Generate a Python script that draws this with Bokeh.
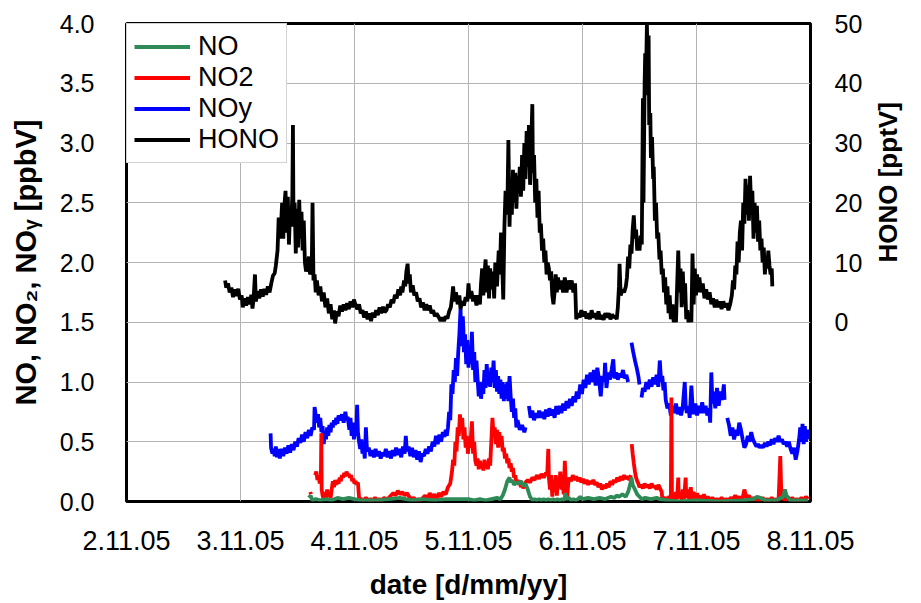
import math
from bokeh.plotting import figure
from bokeh.models import Range1d, LinearAxis, FixedTicker, Legend, LegendItem, NumeralTickFormatter
from bokeh.embed import file_html
from bokeh.resources import INLINE

NAN = float("nan")

# x in days after 2.11.05 00:00
x_tick_labels = ["2.11.05", "3.11.05", "4.11.05", "5.11.05", "6.11.05", "7.11.05", "8.11.05"]
left_ticks = [0.0, 0.5, 1.0, 1.5, 2.0, 2.5, 3.0, 3.5, 4.0]
right_ticks = [0, 10, 20, 30, 40, 50]

# HONO [pptV]
hono_points = [
    (0.865, 7.0), (0.875, 5.8), (0.89, 6.5), (0.905, 5.0), (0.92, 5.8), (0.935, 4.2), (0.95, 5.5),
    (0.965, 4.4), (0.98, 5.6), (0.995, 3.8), (1.01, 4.5), (1.02, 2.5), (1.035, 4.0), (1.05, 2.8),
    (1.065, 4.2), (1.08, 3.0), (1.095, 4.6), (1.105, 2.3), (1.115, 4.0), (1.127, 8.0), (1.135, 3.5),
    (1.15, 5.2), (1.165, 4.0), (1.18, 5.5), (1.195, 4.3), (1.21, 5.6), (1.225, 4.6), (1.24, 6.0),
    (1.255, 5.0), (1.27, 6.5), (1.285, 7.8), (1.30, 8.2), (1.31, 9.5), (1.325, 12.0), (1.335, 17.5),
    (1.345, 14.0), (1.355, 16.0), (1.365, 20.0), (1.375, 14.0), (1.385, 19.5), (1.395, 22.0),
    (1.405, 15.0), (1.415, 21.0), (1.425, 13.0), (1.435, 19.0), (1.445, 16.0), (1.455, 21.5),
    (1.46, 33.0), (1.465, 16.0), (1.475, 20.0), (1.485, 11.5), (1.495, 19.0), (1.505, 12.5),
    (1.515, 20.5), (1.525, 14.0), (1.535, 18.5), (1.545, 12.0), (1.555, 17.0), (1.565, 10.0),
    (1.575, 8.5), (1.59, 9.5), (1.60, 11.0), (1.61, 8.0), (1.625, 9.0), (1.632, 20.0), (1.64, 7.0),
    (1.65, 8.0), (1.66, 5.0), (1.67, 7.0), (1.685, 4.5), (1.70, 6.0), (1.715, 3.5), (1.73, 5.0),
    (1.745, 2.5), (1.76, 4.0), (1.775, 1.5), (1.79, 3.0), (1.805, 0.5), (1.82, 2.0), (1.83, -0.2),
    (1.845, 1.8), (1.86, 1.0), (1.875, 2.8), (1.89, 1.8), (1.905, 3.0), (1.92, 2.0), (1.935, 3.2),
    (1.95, 2.2), (1.965, 3.5), (1.98, 2.5), (1.995, 3.8), (2.01, 2.8), (2.025, 2.2), (2.04, 3.0),
    (2.055, 1.5), (2.07, 2.0), (2.085, 0.8), (2.10, 1.8), (2.115, 0.5), (2.13, 1.5), (2.145, 0.2),
    (2.16, 1.6), (2.175, 0.8), (2.19, 2.0), (2.205, 1.2), (2.22, 2.5), (2.235, 1.5), (2.25, 2.6),
    (2.265, 1.7), (2.28, 2.0), (2.295, 3.0), (2.31, 2.5), (2.325, 3.8), (2.34, 3.2), (2.355, 4.6),
    (2.37, 4.0), (2.385, 5.5), (2.40, 4.5), (2.41, 6.0), (2.42, 5.0), (2.435, 7.0), (2.445, 6.0),
    (2.455, 8.5), (2.466, 9.8), (2.475, 6.5), (2.485, 8.0), (2.495, 5.0), (2.51, 6.2), (2.525, 4.5),
    (2.54, 5.0), (2.555, 3.5), (2.57, 4.0), (2.585, 2.5), (2.60, 3.3), (2.615, 2.0), (2.63, 3.0),
    (2.645, 2.0), (2.66, 2.8), (2.675, 1.5), (2.69, 2.0), (2.705, 1.0), (2.72, 1.5), (2.74, 0.8),
    (2.755, 0.2), (2.77, 0.8), (2.785, 0.2), (2.80, 1.0), (2.815, 0.6), (2.83, 1.8), (2.845, 2.5),
    (2.855, 4.0), (2.865, 6.0), (2.875, 3.5), (2.89, 5.0), (2.905, 3.0), (2.92, 4.5), (2.93, 2.2),
    (2.945, 3.5), (2.96, 2.8), (2.975, 4.2), (2.99, 3.5), (3.0, 6.5), (3.01, 4.0), (3.025, 5.2),
    (3.04, 3.5), (3.055, 4.5), (3.07, 2.8), (3.085, 4.5), (3.10, 3.0), (3.11, 6.5), (3.12, 9.0),
    (3.13, 4.5), (3.14, 8.0), (3.15, 10.5), (3.16, 5.0), (3.17, 9.5), (3.18, 4.0), (3.19, 9.0),
    (3.20, 5.5), (3.215, 8.5), (3.225, 4.0), (3.235, 10.0), (3.25, 6.0), (3.265, 12.0), (3.275, 8.0),
    (3.285, 15.0), (3.295, 10.0), (3.305, 3.8), (3.315, 16.0), (3.325, 22.0), (3.34, 18.0),
    (3.35, 30.5), (3.36, 16.0), (3.37, 24.0), (3.38, 18.0), (3.39, 25.5), (3.40, 20.0), (3.41, 25.0),
    (3.42, 19.0), (3.43, 24.5), (3.44, 22.0), (3.45, 26.0), (3.46, 21.0), (3.47, 28.0), (3.48, 22.0),
    (3.49, 30.0), (3.50, 24.0), (3.51, 32.0), (3.52, 26.0), (3.53, 33.0), (3.54, 23.0), (3.55, 30.0),
    (3.56, 36.5), (3.565, 25.0), (3.575, 28.0), (3.585, 20.0), (3.595, 24.0), (3.605, 17.5),
    (3.615, 22.0), (3.625, 15.0), (3.635, 16.5), (3.645, 12.0), (3.655, 14.0), (3.665, 10.0),
    (3.675, 12.0), (3.685, 8.0), (3.695, 10.0), (3.705, 9.0), (3.715, 7.0), (3.725, 8.5),
    (3.735, 4.5), (3.745, 3.0), (3.755, 5.0), (3.765, 8.0), (3.775, 5.0), (3.785, 7.5), (3.80, 5.5),
    (3.815, 7.0), (3.83, 5.0), (3.845, 7.5), (3.86, 5.0), (3.875, 7.0), (3.89, 5.5), (3.905, 7.0),
    (3.92, 5.0), (3.935, 6.5), (3.945, 0.5), (3.96, 1.5), (3.975, 0.8), (3.99, 2.0), (4.005, 1.0),
    (4.02, 1.8), (4.035, 0.6), (4.05, 1.5), (4.065, 0.5), (4.08, 2.0), (4.095, 0.8), (4.11, 1.5),
    (4.125, 0.5), (4.14, 1.8), (4.155, 0.5), (4.17, 1.2), (4.185, 0.4), (4.20, 1.5), (4.215, 0.8),
    (4.23, 1.5), (4.245, 0.5), (4.26, 1.3), (4.275, 0.8), (4.29, 1.0), (4.30, 0.5), (4.31, 2.5),
    (4.32, 6.0), (4.325, 9.8), (4.335, 4.5), (4.35, 5.5), (4.365, 5.0), (4.38, 6.0), (4.39, 7.5),
    (4.40, 11.0), (4.41, 9.0), (4.42, 13.0), (4.43, 11.5), (4.44, 15.5), (4.45, 17.9), (4.46, 14.0),
    (4.47, 15.5), (4.48, 12.0), (4.49, 13.5), (4.50, 12.0), (4.51, 14.5), (4.52, 13.0), (4.53, 37.5),
    (4.535, 20.0), (4.545, 40.0), (4.55, 45.0), (4.555, 38.0), (4.565, 50.0), (4.57, 44.0),
    (4.58, 48.0), (4.585, 33.0), (4.595, 35.0), (4.60, 27.5), (4.61, 31.0), (4.62, 24.0),
    (4.625, 26.0), (4.635, 17.0), (4.645, 20.0), (4.655, 14.0), (4.665, 15.0), (4.675, 10.5),
    (4.685, 12.0), (4.695, 8.0), (4.705, 9.0), (4.715, 5.0), (4.725, 7.5), (4.735, 3.0), (4.745, 6.0),
    (4.755, 1.5), (4.765, 4.5), (4.775, 0.5), (4.79, 3.0), (4.80, 0.0), (4.81, 2.0), (4.82, 0.0),
    (4.83, 6.0), (4.84, 12.0), (4.85, 5.0), (4.86, 9.0), (4.87, 2.5), (4.88, 8.5), (4.89, 3.0),
    (4.90, 6.5), (4.91, 0.5), (4.92, 2.0), (4.93, 0.0), (4.945, 1.5), (4.955, 0.0), (4.965, 11.5),
    (4.975, 3.0), (4.985, 9.0), (4.995, 4.5), (5.005, 8.0), (5.015, 5.0), (5.025, 7.5), (5.04, 5.0),
    (5.055, 6.5), (5.07, 4.0), (5.085, 5.5), (5.10, 3.8), (5.115, 5.0), (5.13, 3.0), (5.145, 4.0),
    (5.16, 2.5), (5.175, 3.8), (5.19, 2.5), (5.205, 3.5), (5.22, 2.2), (5.235, 3.5), (5.25, 2.5),
    (5.265, 3.2), (5.28, 2.0), (5.295, 3.0), (5.31, 4.5), (5.32, 7.0), (5.33, 5.5), (5.34, 9.5),
    (5.35, 8.0), (5.36, 13.5), (5.37, 10.0), (5.38, 15.0), (5.39, 17.0), (5.40, 12.0), (5.41, 20.0),
    (5.42, 16.5), (5.43, 24.0), (5.44, 18.0), (5.45, 23.0), (5.46, 17.0), (5.47, 24.5), (5.48, 19.0),
    (5.49, 22.0), (5.50, 14.0), (5.51, 20.0), (5.52, 15.0), (5.53, 19.5), (5.54, 13.5), (5.55, 17.0),
    (5.56, 12.0), (5.57, 14.0), (5.58, 10.0), (5.59, 12.5), (5.60, 8.0), (5.61, 11.0), (5.62, 9.0),
    (5.63, 12.0), (5.64, 9.5), (5.65, 8.0), (5.66, 9.0), (5.665, 6.0),
]

# NOy [ppbV]
noy_points = [
    (1.264, 0.57), (1.268, 0.45), (1.28, 0.40), (1.29, 0.44), (1.30, 0.38), (1.31, 0.46), (1.32, 0.37),
    (1.33, 0.44), (1.345, 0.36), (1.36, 0.44), (1.375, 0.38), (1.39, 0.45), (1.405, 0.40), (1.42, 0.47),
    (1.435, 0.41), (1.45, 0.48), (1.465, 0.43), (1.48, 0.50), (1.495, 0.46), (1.51, 0.53), (1.525, 0.49),
    (1.54, 0.56), (1.555, 0.50), (1.57, 0.58), (1.585, 0.53), (1.60, 0.60), (1.615, 0.55), (1.63, 0.62),
    (1.645, 0.60), (1.65, 0.79), (1.66, 0.72), (1.67, 0.66), (1.68, 0.73), (1.69, 0.62), (1.70, 0.70),
    (1.71, 0.58), (1.72, 0.63), (1.73, 0.48), (1.74, 0.58), (1.75, 0.52), (1.76, 0.62), (1.77, 0.55),
    (1.78, 0.64), (1.79, 0.58), (1.80, 0.66), (1.81, 0.62), (1.82, 0.68), (1.83, 0.64), (1.84, 0.70),
    (1.85, 0.65), (1.86, 0.72), (1.875, 0.68), (1.89, 0.73), (1.905, 0.66), (1.92, 0.75), (1.93, 0.68),
    (1.94, 0.71), (1.955, 0.60), (1.965, 0.70), (1.975, 0.55), (1.985, 0.66), (1.995, 0.52),
    (2.005, 0.62), (2.015, 0.55), (2.023, 0.81), (2.03, 0.58), (2.04, 0.50), (2.05, 0.44), (2.06, 0.52),
    (2.07, 0.40), (2.08, 0.47), (2.09, 0.36), (2.10, 0.62), (2.11, 0.42), (2.125, 0.45), (2.14, 0.38),
    (2.155, 0.43), (2.17, 0.37), (2.185, 0.44), (2.20, 0.38), (2.215, 0.42), (2.23, 0.36), (2.245, 0.41),
    (2.26, 0.38), (2.275, 0.44), (2.29, 0.37), (2.305, 0.42), (2.32, 0.36), (2.335, 0.43), (2.35, 0.38),
    (2.365, 0.45), (2.38, 0.39), (2.395, 0.44), (2.41, 0.37), (2.425, 0.46), (2.44, 0.40), (2.45, 0.55),
    (2.46, 0.42), (2.475, 0.46), (2.49, 0.38), (2.505, 0.45), (2.52, 0.37), (2.535, 0.43), (2.55, 0.35),
    (2.565, 0.42), (2.58, 0.33), (2.595, 0.40), (2.61, 0.38), (2.625, 0.44), (2.64, 0.40), (2.655, 0.46),
    (2.67, 0.42), (2.685, 0.50), (2.70, 0.46), (2.715, 0.55), (2.73, 0.48), (2.745, 0.56), (2.76, 0.50),
    (2.775, 0.58), (2.79, 0.54), (2.80, 0.60), (2.81, 0.55), (2.82, 0.62), (2.83, 0.75), (2.84, 0.68),
    (2.85, 0.98), (2.86, 0.90), (2.87, 1.10), (2.88, 1.00), (2.89, 1.20), (2.90, 1.05), (2.91, 1.25),
    (2.92, 1.40), (2.93, 1.61), (2.935, 1.45), (2.94, 1.30), (2.95, 1.55), (2.955, 1.45), (2.96, 1.25),
    (2.97, 1.40), (2.98, 1.15), (2.99, 1.35), (3.00, 1.12), (3.01, 1.30), (3.02, 1.15), (3.03, 1.42),
    (3.04, 1.10), (3.05, 1.25), (3.06, 1.00), (3.07, 1.18), (3.08, 1.02), (3.09, 0.88), (3.10, 1.00),
    (3.11, 0.86), (3.12, 0.98), (3.13, 0.90), (3.14, 1.10), (3.15, 0.95), (3.16, 1.15), (3.17, 0.97),
    (3.18, 1.08), (3.19, 0.96), (3.20, 1.12), (3.21, 1.00), (3.22, 1.18), (3.23, 0.95), (3.24, 1.10),
    (3.25, 0.92), (3.26, 1.05), (3.27, 0.90), (3.28, 1.02), (3.29, 0.86), (3.30, 1.00), (3.31, 0.84),
    (3.32, 0.98), (3.33, 0.86), (3.34, 1.00), (3.35, 0.84), (3.36, 1.05), (3.37, 0.88), (3.38, 0.75),
    (3.39, 0.86), (3.40, 0.70), (3.41, 0.78), (3.42, 0.62), (3.43, 0.68), (3.45, 0.60), (3.47, 0.64),
    (3.49, 0.58), (3.50, 0.62), (3.51, NAN),
    (3.53, 0.80), (3.545, 0.70), (3.56, 0.76), (3.575, 0.68), (3.59, 0.74), (3.605, 0.70), (3.62, 0.76),
    (3.635, 0.70), (3.65, 0.75), (3.665, 0.69), (3.68, 0.77), (3.695, 0.71), (3.71, 0.78), (3.725, 0.72),
    (3.74, 0.77), (3.755, 0.70), (3.77, 0.80), (3.785, 0.73), (3.80, 0.80), (3.815, 0.74), (3.83, 0.82),
    (3.845, 0.76), (3.86, 0.84), (3.875, 0.78), (3.89, 0.86), (3.905, 0.80), (3.92, 0.88), (3.935, 0.83),
    (3.95, 0.92), (3.965, 0.86), (3.98, 0.98), (3.995, 0.90), (4.01, 1.02), (4.025, 0.95), (4.04, 1.06),
    (4.055, 0.98), (4.07, 1.08), (4.085, 1.00), (4.10, 1.10), (4.115, 0.97), (4.13, 1.12), (4.145, 1.02),
    (4.16, 0.88), (4.175, 1.05), (4.19, 1.00), (4.198, 1.16), (4.21, 0.95), (4.225, 1.08), (4.24, 1.02),
    (4.255, 1.10), (4.27, 1.19), (4.28, 1.03), (4.295, 1.08), (4.31, 1.02), (4.325, 1.07), (4.34, 1.04),
    (4.355, 1.10), (4.37, 1.03), (4.385, 1.06), (4.40, 1.00), (4.415, NAN),
    (4.43, 1.33), (4.445, 1.25), (4.46, 1.18), (4.475, 1.12), (4.49, 1.05), (4.50, 0.98), (4.51, NAN),
    (4.518, 0.87), (4.53, 0.95), (4.545, 0.92), (4.56, 1.00), (4.575, 0.94), (4.59, 1.02), (4.605, 0.96),
    (4.62, 1.04), (4.635, 0.98), (4.65, 1.06), (4.665, 0.96), (4.678, 1.18), (4.69, 1.00), (4.70, 1.05),
    (4.71, 0.93), (4.72, 1.00), (4.73, 0.85), (4.745, 0.78), (4.76, 0.82), (4.775, 0.72), (4.79, 0.80),
    (4.805, 0.74), (4.82, 0.82), (4.835, 0.73), (4.85, 0.79), (4.865, 0.72), (4.88, 0.80), (4.897, 1.00),
    (4.905, 0.80), (4.915, 0.74), (4.93, 0.80), (4.94, 0.70), (4.955, 0.97), (4.965, 0.80), (4.975, 0.73),
    (4.99, 0.82), (5.005, 0.72), (5.02, 0.80), (5.035, 0.74), (5.05, 0.83), (5.065, 0.74), (5.08, 0.80),
    (5.095, 0.72), (5.11, 0.78), (5.12, 0.66), (5.13, 1.08), (5.14, 0.82), (5.15, 0.92), (5.165, 0.78),
    (5.18, 0.95), (5.195, 0.80), (5.21, 0.92), (5.225, 0.85), (5.24, 0.98), (5.246, 0.85), (5.255, NAN),
    (5.27, 0.70), (5.285, 0.64), (5.30, 0.55), (5.315, 0.62), (5.33, 0.52), (5.345, 0.60), (5.36, 0.55),
    (5.375, 0.66), (5.39, 0.60), (5.405, 0.52), (5.42, 0.45), (5.435, 0.48), (5.45, 0.55), (5.465, 0.50),
    (5.48, 0.58), (5.495, 0.52), (5.51, 0.49), (5.525, 0.46), (5.54, 0.48), (5.555, 0.45), (5.57, 0.47),
    (5.585, 0.45), (5.60, 0.49), (5.615, 0.46), (5.63, 0.50), (5.645, 0.47), (5.66, 0.52), (5.675, 0.48),
    (5.69, 0.53), (5.705, 0.50), (5.72, 0.55), (5.735, 0.50), (5.75, 0.52), (5.765, 0.48), (5.78, 0.50),
    (5.795, 0.46), (5.81, 0.50), (5.825, 0.44), (5.84, 0.40), (5.855, 0.45), (5.87, 0.35), (5.885, 0.42),
    (5.90, 0.52), (5.91, 0.62), (5.92, 0.50), (5.93, 0.65), (5.94, 0.48), (5.95, 0.63), (5.96, 0.50),
    (5.97, 0.60), (5.98, 0.52),
]

# NO2 [ppbV]
no2_points = [
    (1.612, 0.08), (1.618, 0.06), (1.625, NAN),
    (1.655, 0.22), (1.665, 0.25), (1.675, 0.18), (1.685, 0.22), (1.695, 0.15), (1.705, 0.20), (1.709, 0.57),
    (1.712, 0.10), (1.72, 0.05), (1.73, 0.02), (1.74, 0.08), (1.75, 0.03), (1.76, 0.10), (1.77, 0.04),
    (1.78, 0.08), (1.79, 0.03), (1.80, 0.10), (1.81, 0.17), (1.82, 0.12), (1.83, 0.18), (1.84, 0.14),
    (1.85, 0.18), (1.86, 0.15), (1.87, 0.20), (1.88, 0.17), (1.89, 0.22), (1.90, 0.20), (1.91, 0.24),
    (1.92, 0.21), (1.93, 0.25), (1.94, 0.22), (1.95, 0.23), (1.96, 0.20), (1.97, 0.22), (1.98, 0.17),
    (1.99, 0.19), (2.00, 0.15), (2.01, 0.17), (2.02, 0.14), (2.03, 0.16), (2.04, 0.03), (2.06, 0.02),
    (2.08, 0.01), (2.10, 0.03), (2.12, 0.01), (2.14, 0.02), (2.16, 0.01), (2.18, 0.03), (2.20, 0.01),
    (2.22, 0.02), (2.24, 0.01), (2.26, 0.03), (2.28, 0.02), (2.30, 0.03), (2.32, 0.05), (2.34, 0.07),
    (2.36, 0.05), (2.38, 0.09), (2.40, 0.06), (2.42, 0.08), (2.44, 0.05), (2.46, 0.07), (2.48, 0.04),
    (2.50, 0.02), (2.52, 0.03), (2.54, 0.01), (2.56, 0.02), (2.58, 0.01), (2.60, 0.03), (2.62, 0.05),
    (2.64, 0.02), (2.66, 0.07), (2.68, 0.03), (2.70, 0.06), (2.72, 0.02), (2.74, 0.07), (2.76, 0.04),
    (2.78, 0.08), (2.80, 0.06), (2.82, 0.12), (2.84, 0.15), (2.855, 0.25), (2.865, 0.35), (2.875, 0.30),
    (2.885, 0.50), (2.895, 0.42), (2.905, 0.62), (2.915, 0.55), (2.925, 0.73), (2.935, 0.60),
    (2.945, 0.70), (2.955, 0.52), (2.965, 0.62), (2.975, 0.45), (2.985, 0.55), (2.995, 0.40),
    (3.005, 0.50), (3.015, 0.45), (3.03, 0.67), (3.04, 0.40), (3.05, 0.50), (3.06, 0.34), (3.07, 0.30),
    (3.08, 0.36), (3.09, 0.27), (3.10, 0.34), (3.11, 0.28), (3.12, 0.32), (3.13, 0.26), (3.14, 0.35),
    (3.15, 0.28), (3.16, 0.33), (3.17, 0.27), (3.18, 0.36), (3.19, 0.30), (3.20, 0.50), (3.21, 0.70),
    (3.22, 0.55), (3.23, 0.62), (3.24, 0.48), (3.25, 0.60), (3.26, 0.45), (3.27, 0.58), (3.28, 0.46),
    (3.29, 0.55), (3.30, 0.42), (3.31, 0.45), (3.32, 0.36), (3.33, 0.40), (3.34, 0.32), (3.35, 0.36),
    (3.36, 0.28), (3.37, 0.32), (3.38, 0.25), (3.39, 0.28), (3.40, 0.20), (3.41, 0.22), (3.42, 0.16),
    (3.43, 0.18), (3.44, 0.14), (3.45, 0.17), (3.46, 0.12), (3.47, 0.15), (3.48, 0.11), (3.49, 0.14),
    (3.50, 0.16), (3.52, 0.18), (3.54, 0.16), (3.56, 0.20), (3.58, 0.18), (3.60, 0.22), (3.62, 0.19),
    (3.64, 0.23), (3.66, 0.20), (3.68, 0.24), (3.69, 0.22), (3.70, 0.44), (3.705, 0.20), (3.715, 0.10),
    (3.725, 0.22), (3.735, 0.04), (3.745, 0.18), (3.755, 0.08), (3.765, 0.22), (3.775, 0.05),
    (3.785, 0.20), (3.795, 0.12), (3.805, 0.25), (3.815, 0.10), (3.825, 0.18), (3.835, 0.06),
    (3.845, 0.34), (3.855, 0.12), (3.865, 0.02), (3.875, 0.15), (3.885, 0.20), (3.90, 0.17),
    (3.915, 0.22), (3.93, 0.18), (3.945, 0.21), (3.96, 0.17), (3.975, 0.20), (3.99, 0.16), (4.005, 0.19),
    (4.02, 0.15), (4.035, 0.18), (4.05, 0.14), (4.065, 0.17), (4.08, 0.15), (4.095, 0.18), (4.11, 0.14),
    (4.125, 0.16), (4.14, 0.12), (4.155, 0.15), (4.17, 0.10), (4.185, 0.14), (4.20, 0.11), (4.215, 0.15),
    (4.23, 0.12), (4.245, 0.17), (4.26, 0.14), (4.275, 0.18), (4.29, 0.16), (4.305, 0.20), (4.32, 0.17),
    (4.335, 0.21), (4.35, 0.18), (4.365, 0.22), (4.38, 0.19), (4.395, 0.21), (4.41, 0.18), (4.425, 0.22),
    (4.428, NAN),
    (4.432, 0.48), (4.44, 0.40), (4.45, 0.32), (4.46, 0.25), (4.47, 0.20), (4.48, 0.17), (4.49, 0.15),
    (4.50, 0.12), (4.515, 0.14), (4.53, 0.11), (4.545, 0.15), (4.56, 0.12), (4.575, 0.14), (4.59, 0.11),
    (4.605, 0.15), (4.62, 0.12), (4.635, 0.13), (4.65, 0.10), (4.665, 0.14), (4.68, 0.11), (4.695, 0.08),
    (4.70, 0.02), (4.72, 0.03), (4.74, 0.02), (4.76, 0.04), (4.775, 0.02), (4.78, 0.87), (4.785, 0.02),
    (4.80, 0.06), (4.81, 0.01), (4.82, 0.08), (4.83, 0.02), (4.84, 0.20), (4.845, 0.03), (4.86, 0.08),
    (4.87, 0.01), (4.88, 0.10), (4.89, 0.02), (4.905, 0.20), (4.91, 0.03), (4.925, 0.10), (4.935, 0.02),
    (4.95, 0.12), (4.96, 0.01), (4.975, 0.08), (4.99, 0.02), (5.005, 0.07), (5.02, 0.01), (5.035, 0.05),
    (5.05, 0.02), (5.065, 0.06), (5.08, 0.01), (5.10, 0.04), (5.12, 0.01), (5.14, 0.03), (5.16, 0.01),
    (5.18, 0.02), (5.20, 0.01), (5.22, 0.03), (5.24, 0.01), (5.26, 0.02), (5.28, 0.01), (5.30, 0.03),
    (5.32, 0.02), (5.34, 0.05), (5.36, 0.02), (5.38, 0.04), (5.40, 0.01), (5.42, 0.10), (5.43, 0.06),
    (5.44, 0.03), (5.46, 0.05), (5.48, 0.01), (5.50, 0.03), (5.52, 0.01), (5.54, 0.02), (5.56, 0.01),
    (5.58, 0.03), (5.60, 0.01), (5.62, 0.02), (5.64, 0.01), (5.66, 0.03), (5.68, 0.01), (5.70, 0.02),
    (5.72, 0.01), (5.735, 0.38), (5.745, 0.02), (5.76, 0.03), (5.78, 0.01), (5.80, 0.04), (5.82, 0.01),
    (5.84, 0.03), (5.86, 0.01), (5.88, 0.02), (5.90, 0.01), (5.92, 0.03), (5.94, 0.01), (5.96, 0.04),
    (5.98, 0.02),
]

# NO [ppbV]
no_points = [
    (1.600, 0.03), (1.615, 0.05), (1.63, 0.01), (1.66, 0.02), (1.70, 0.01), (1.75, 0.02), (1.80, 0.01),
    (1.85, 0.03), (1.90, 0.02), (1.95, 0.03), (2.00, 0.02), (2.05, 0.01), (2.10, 0.01), (2.20, 0.01),
    (2.30, 0.02), (2.40, 0.03), (2.45, 0.02), (2.50, 0.01), (2.60, 0.02), (2.70, 0.01), (2.80, 0.02),
    (2.90, 0.02), (3.00, 0.02), (3.05, 0.01), (3.10, 0.02), (3.15, 0.01), (3.20, 0.02), (3.25, 0.03),
    (3.28, 0.02), (3.30, 0.05), (3.32, 0.10), (3.34, 0.17), (3.36, 0.20), (3.37, 0.16), (3.38, 0.18),
    (3.40, 0.14), (3.42, 0.16), (3.44, 0.15), (3.46, 0.17), (3.48, 0.13), (3.50, 0.15), (3.52, 0.10),
    (3.54, 0.04), (3.56, 0.01), (3.58, 0.02), (3.60, 0.01), (3.62, 0.02), (3.64, 0.01), (3.66, 0.02),
    (3.68, 0.01), (3.70, 0.02), (3.72, 0.01), (3.74, 0.02), (3.76, 0.01), (3.78, 0.02), (3.80, 0.01),
    (3.82, 0.02), (3.84, 0.01), (3.85, 0.07), (3.86, 0.02), (3.88, 0.03), (3.90, 0.01), (3.92, 0.02),
    (3.94, 0.01), (3.96, 0.02), (3.98, 0.04), (4.00, 0.02), (4.05, 0.03), (4.10, 0.02), (4.15, 0.03),
    (4.20, 0.02), (4.25, 0.04), (4.28, 0.03), (4.30, 0.05), (4.32, 0.04), (4.35, 0.06), (4.38, 0.04),
    (4.40, 0.08), (4.42, 0.15), (4.43, 0.20), (4.44, 0.14), (4.46, 0.10), (4.48, 0.06), (4.50, 0.04),
    (4.52, 0.02), (4.55, 0.03), (4.60, 0.02), (4.65, 0.03), (4.68, 0.02), (4.75, 0.01), (4.85, 0.00),
    (5.00, 0.01), (5.20, 0.00), (5.40, 0.01), (5.50, 0.02), (5.53, 0.04), (5.56, 0.03), (5.60, 0.01),
    (5.70, 0.01), (5.76, 0.04), (5.775, 0.10), (5.79, 0.05), (5.82, 0.01), (5.90, 0.01), (5.98, 0.01),
]

FONT = "Liberation Sans"

p = figure(width=921, height=603, output_backend="svg", toolbar_location=None,
           x_range=Range1d(0, 6), y_range=Range1d(0, 4.0),
           min_border_left=126, min_border_right=108, min_border_top=23, min_border_bottom=102,
           background_fill_color="white", border_fill_color="white")
p.extra_y_ranges = {"hono": Range1d(-30, 50)}

p.outline_line_color = "black"
p.outline_line_width = 3

# x axis
xa = p.xaxis[0]
xa.ticker = FixedTicker(ticks=list(range(len(x_tick_labels))))
xa.major_label_overrides = {i: lab for i, lab in enumerate(x_tick_labels)}
xa.axis_label = "date [d/mm/yy]"

# left axis
ya = p.yaxis[0]
ya.ticker = FixedTicker(ticks=left_ticks)
ya.formatter = NumeralTickFormatter(format="0.0")
ya.axis_label = "NO, NO\u2082, NO\u1d67 [ppbV]"

# right axis
ra = LinearAxis(y_range_name="hono", ticker=FixedTicker(ticks=right_ticks), axis_label="HONO [pptV]")
p.add_layout(ra, "right")
try:
    ra.axis_label_orientation = math.pi / 2
except Exception:
    pass

for ax in (xa, ya, ra):
    ax.axis_line_color = None
    ax.major_tick_line_color = None
    ax.minor_tick_line_color = None
    ax.major_tick_out = 0
    ax.major_tick_in = 0
    ax.major_label_text_font = FONT
    ax.major_label_text_color = "black"
    ax.axis_label_text_font = FONT
    ax.axis_label_text_font_style = "bold"
    ax.axis_label_text_color = "black"

xa.major_label_text_font_size = "27px"
xa.major_label_standoff = 29
xa.axis_label_text_font_size = "28px"
xa.axis_label_standoff = 16

ya.major_label_text_font_size = "25px"
ya.major_label_standoff = 32
ya.axis_label_text_font_size = "29px"
ya.axis_label_standoff = 15

ra.major_label_text_font_size = "25px"
ra.major_label_standoff = 24
ra.axis_label_text_font_size = "26px"
ra.axis_label_standoff = 23

p.xgrid.grid_line_color = "#b4b4b4"
p.ygrid.grid_line_color = "#b4b4b4"
p.xgrid.grid_line_width = 1
p.ygrid.grid_line_width = 1

def split(points):
    return [t for t, v in points], [v for t, v in points]

LW = 3.8
nx, ny = split(no_points)
n2x, n2y = split(no2_points)
oyx, oyy = split(noy_points)
hx, hy = split(hono_points)

r_noy = p.line(oyx, oyy, line_color="#0000ff", line_width=LW)
r_no2 = p.line(n2x, n2y, line_color="#ff0000", line_width=LW)
r_no = p.line(nx, ny, line_color="#2e8b57", line_width=LW)
r_hono = p.line(hx, hy, line_color="black", line_width=LW, y_range_name="hono")

legend = Legend(items=[LegendItem(label="NO", renderers=[r_no]),
                       LegendItem(label="NO2", renderers=[r_no2]),
                       LegendItem(label="NOy", renderers=[r_noy]),
                       LegendItem(label="HONO", renderers=[r_hono])],
                location="top_left", margin=0, padding=7,
                glyph_width=56, glyph_height=29, label_height=29, label_standoff=8,
                label_text_font=FONT, label_text_font_size="27px", label_text_color="black",
                border_line_color="#a8a8a8", border_line_width=1,
                background_fill_color="white", background_fill_alpha=1.0)
try:
    legend.spacing = -2
except Exception:
    legend.spacing = 0
p.add_layout(legend, "center")

open("out.html", "w").write(file_html(p, INLINE))
